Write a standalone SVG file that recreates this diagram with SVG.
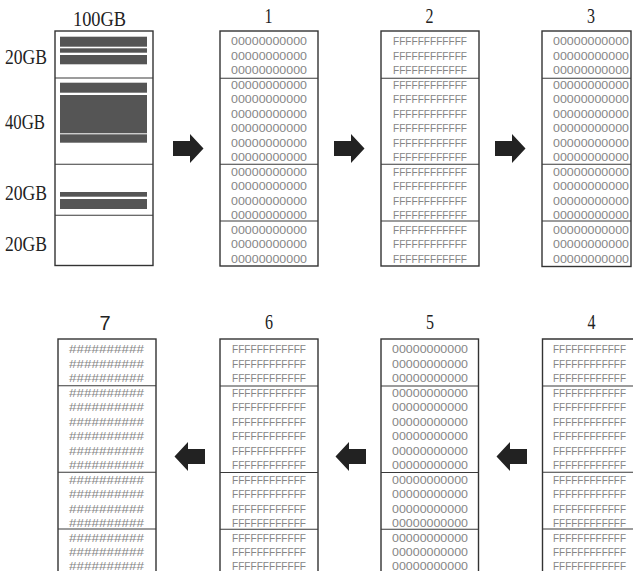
<svg xmlns="http://www.w3.org/2000/svg" width="633" height="571" viewBox="0 0 633 571">
<style>
.box{fill:#fff;stroke:#333;stroke-width:1.4}
.edge{fill:none;stroke:#333;stroke-width:1.4}
.div{stroke:#3a3a3a;stroke-width:1.1}
.bar{fill:#555}
.d{font-family:"Liberation Sans",Arial,sans-serif;font-size:11px;fill:#858585;text-anchor:middle}
.lbl{font-family:"Liberation Serif","Times New Roman",serif;font-size:22px;fill:#222}
.num{font-family:"Liberation Serif","Times New Roman",serif;font-size:22px;fill:#222;text-anchor:middle}
.arr{fill:#222}
</style>
<defs>
<polygon id="ar" class="arr" points="0,-7.5 17,-7.5 17,-14.5 30.5,0 17,14.5 17,7.5 0,7.5"/>
</defs>
<rect width="633" height="571" fill="#fff"/>

<g id="disk">
<text class="lbl" x="73" y="26" textLength="53" lengthAdjust="spacingAndGlyphs">100GB</text>
<text class="lbl" x="5" y="64" textLength="42" lengthAdjust="spacingAndGlyphs">20GB</text>
<text class="lbl" x="5" y="128.5" textLength="40" lengthAdjust="spacingAndGlyphs">40GB</text>
<text class="lbl" x="5" y="199.5" textLength="42" lengthAdjust="spacingAndGlyphs">20GB</text>
<text class="lbl" x="5" y="251" textLength="42" lengthAdjust="spacingAndGlyphs">20GB</text>
<rect class="box" x="55" y="31" width="98" height="234.5"/>
<line class="div" x1="55" y1="78" x2="153" y2="78"/>
<line class="div" x1="55" y1="164.3" x2="153" y2="164.3"/>
<line class="div" x1="55" y1="215.3" x2="153" y2="215.3" stroke="#777"/>
<rect class="bar" x="60" y="36.7" width="87" height="10"/>
<rect class="bar" x="60" y="48.3" width="87" height="4.4"/>
<rect class="bar" x="60" y="55" width="87" height="9.3"/>
<rect class="bar" x="60" y="82.7" width="87" height="10"/>
<rect class="bar" x="60" y="95" width="87" height="38.3"/>
<rect class="bar" x="60" y="134.3" width="87" height="8.4"/>
<rect class="bar" x="60" y="192" width="87" height="4.7"/>
<rect class="bar" x="60" y="199" width="87" height="10"/>
</g>

<g id="m1">
<text class="num" x="268.5" y="23" textLength="8" lengthAdjust="spacingAndGlyphs">1</text>
<rect class="box" x="220" y="31" width="98" height="235"/>
<line class="div" x1="220" y1="78.3" x2="318" y2="78.3"/>
<line class="div" x1="220" y1="164.3" x2="318" y2="164.3"/>
<line class="div" x1="220" y1="221" x2="318" y2="221"/>
<g class="d">
<text x="269" y="45" textLength="76" lengthAdjust="spacingAndGlyphs">00000000000</text>
<text x="269" y="59.5" textLength="76" lengthAdjust="spacingAndGlyphs">00000000000</text>
<text x="269" y="74" textLength="76" lengthAdjust="spacingAndGlyphs">00000000000</text>
<text x="269" y="88.5" textLength="76" lengthAdjust="spacingAndGlyphs">00000000000</text>
<text x="269" y="103" textLength="76" lengthAdjust="spacingAndGlyphs">00000000000</text>
<text x="269" y="117.5" textLength="76" lengthAdjust="spacingAndGlyphs">00000000000</text>
<text x="269" y="132" textLength="76" lengthAdjust="spacingAndGlyphs">00000000000</text>
<text x="269" y="146.5" textLength="76" lengthAdjust="spacingAndGlyphs">00000000000</text>
<text x="269" y="161" textLength="76" lengthAdjust="spacingAndGlyphs">00000000000</text>
<text x="269" y="175.5" textLength="76" lengthAdjust="spacingAndGlyphs">00000000000</text>
<text x="269" y="190" textLength="76" lengthAdjust="spacingAndGlyphs">00000000000</text>
<text x="269" y="204.5" textLength="76" lengthAdjust="spacingAndGlyphs">00000000000</text>
<text x="269" y="219" textLength="76" lengthAdjust="spacingAndGlyphs">00000000000</text>
<text x="269" y="233.5" textLength="76" lengthAdjust="spacingAndGlyphs">00000000000</text>
<text x="269" y="248" textLength="76" lengthAdjust="spacingAndGlyphs">00000000000</text>
<text x="269" y="262.5" textLength="76" lengthAdjust="spacingAndGlyphs">00000000000</text>
</g>
</g>

<g id="m2">
<text class="num" x="429.5" y="23" textLength="8" lengthAdjust="spacingAndGlyphs">2</text>
<rect class="box" x="381" y="31" width="98" height="235"/>
<line class="div" x1="381" y1="78.3" x2="479" y2="78.3"/>
<line class="div" x1="381" y1="164.3" x2="479" y2="164.3"/>
<line class="div" x1="381" y1="221" x2="479" y2="221"/>
<g class="d">
<text x="430" y="45" textLength="74" lengthAdjust="spacingAndGlyphs">FFFFFFFFFFFF</text>
<text x="430" y="59.5" textLength="74" lengthAdjust="spacingAndGlyphs">FFFFFFFFFFFF</text>
<text x="430" y="74" textLength="74" lengthAdjust="spacingAndGlyphs">FFFFFFFFFFFF</text>
<text x="430" y="88.5" textLength="74" lengthAdjust="spacingAndGlyphs">FFFFFFFFFFFF</text>
<text x="430" y="103" textLength="74" lengthAdjust="spacingAndGlyphs">FFFFFFFFFFFF</text>
<text x="430" y="117.5" textLength="74" lengthAdjust="spacingAndGlyphs">FFFFFFFFFFFF</text>
<text x="430" y="132" textLength="74" lengthAdjust="spacingAndGlyphs">FFFFFFFFFFFF</text>
<text x="430" y="146.5" textLength="74" lengthAdjust="spacingAndGlyphs">FFFFFFFFFFFF</text>
<text x="430" y="161" textLength="74" lengthAdjust="spacingAndGlyphs">FFFFFFFFFFFF</text>
<text x="430" y="175.5" textLength="74" lengthAdjust="spacingAndGlyphs">FFFFFFFFFFFF</text>
<text x="430" y="190" textLength="74" lengthAdjust="spacingAndGlyphs">FFFFFFFFFFFF</text>
<text x="430" y="204.5" textLength="74" lengthAdjust="spacingAndGlyphs">FFFFFFFFFFFF</text>
<text x="430" y="219" textLength="74" lengthAdjust="spacingAndGlyphs">FFFFFFFFFFFF</text>
<text x="430" y="233.5" textLength="74" lengthAdjust="spacingAndGlyphs">FFFFFFFFFFFF</text>
<text x="430" y="248" textLength="74" lengthAdjust="spacingAndGlyphs">FFFFFFFFFFFF</text>
<text x="430" y="262.5" textLength="74" lengthAdjust="spacingAndGlyphs">FFFFFFFFFFFF</text>
</g>
</g>

<g id="m3">
<text class="num" x="591" y="23" textLength="8" lengthAdjust="spacingAndGlyphs">3</text>
<rect class="box" x="542" y="31" width="89" height="235.5"/>
<line class="div" x1="542" y1="78.3" x2="631" y2="78.3"/>
<line class="div" x1="542" y1="164.3" x2="631" y2="164.3"/>
<line class="div" x1="542" y1="221" x2="631" y2="221"/>
<g class="d">
<text x="591" y="45" textLength="76" lengthAdjust="spacingAndGlyphs">00000000000</text>
<text x="591" y="59.5" textLength="76" lengthAdjust="spacingAndGlyphs">00000000000</text>
<text x="591" y="74" textLength="76" lengthAdjust="spacingAndGlyphs">00000000000</text>
<text x="591" y="88.5" textLength="76" lengthAdjust="spacingAndGlyphs">00000000000</text>
<text x="591" y="103" textLength="76" lengthAdjust="spacingAndGlyphs">00000000000</text>
<text x="591" y="117.5" textLength="76" lengthAdjust="spacingAndGlyphs">00000000000</text>
<text x="591" y="132" textLength="76" lengthAdjust="spacingAndGlyphs">00000000000</text>
<text x="591" y="146.5" textLength="76" lengthAdjust="spacingAndGlyphs">00000000000</text>
<text x="591" y="161" textLength="76" lengthAdjust="spacingAndGlyphs">00000000000</text>
<text x="591" y="175.5" textLength="76" lengthAdjust="spacingAndGlyphs">00000000000</text>
<text x="591" y="190" textLength="76" lengthAdjust="spacingAndGlyphs">00000000000</text>
<text x="591" y="204.5" textLength="76" lengthAdjust="spacingAndGlyphs">00000000000</text>
<text x="591" y="219" textLength="76" lengthAdjust="spacingAndGlyphs">00000000000</text>
<text x="591" y="233.5" textLength="76" lengthAdjust="spacingAndGlyphs">00000000000</text>
<text x="591" y="248" textLength="76" lengthAdjust="spacingAndGlyphs">00000000000</text>
<text x="591" y="262.5" textLength="76" lengthAdjust="spacingAndGlyphs">00000000000</text>
</g>
</g>

<g id="m4">
<text class="num" x="591.5" y="328.5" textLength="8" lengthAdjust="spacingAndGlyphs">4</text>
<path class="edge" d="M633,339 H542.5 V571"/>
<line class="div" x1="542.5" y1="386" x2="633" y2="386"/>
<line class="div" x1="542.5" y1="472.3" x2="633" y2="472.3"/>
<line class="div" x1="542.5" y1="529" x2="633" y2="529"/>
<g class="d">
<text x="589.5" y="353" textLength="73" lengthAdjust="spacingAndGlyphs">FFFFFFFFFFFF</text>
<text x="589.5" y="367.5" textLength="73" lengthAdjust="spacingAndGlyphs">FFFFFFFFFFFF</text>
<text x="589.5" y="382" textLength="73" lengthAdjust="spacingAndGlyphs">FFFFFFFFFFFF</text>
<text x="589.5" y="396.5" textLength="73" lengthAdjust="spacingAndGlyphs">FFFFFFFFFFFF</text>
<text x="589.5" y="411" textLength="73" lengthAdjust="spacingAndGlyphs">FFFFFFFFFFFF</text>
<text x="589.5" y="425.5" textLength="73" lengthAdjust="spacingAndGlyphs">FFFFFFFFFFFF</text>
<text x="589.5" y="440" textLength="73" lengthAdjust="spacingAndGlyphs">FFFFFFFFFFFF</text>
<text x="589.5" y="454.5" textLength="73" lengthAdjust="spacingAndGlyphs">FFFFFFFFFFFF</text>
<text x="589.5" y="469" textLength="73" lengthAdjust="spacingAndGlyphs">FFFFFFFFFFFF</text>
<text x="589.5" y="483.5" textLength="73" lengthAdjust="spacingAndGlyphs">FFFFFFFFFFFF</text>
<text x="589.5" y="498" textLength="73" lengthAdjust="spacingAndGlyphs">FFFFFFFFFFFF</text>
<text x="589.5" y="512.5" textLength="73" lengthAdjust="spacingAndGlyphs">FFFFFFFFFFFF</text>
<text x="589.5" y="527" textLength="73" lengthAdjust="spacingAndGlyphs">FFFFFFFFFFFF</text>
<text x="589.5" y="541.5" textLength="73" lengthAdjust="spacingAndGlyphs">FFFFFFFFFFFF</text>
<text x="589.5" y="556" textLength="73" lengthAdjust="spacingAndGlyphs">FFFFFFFFFFFF</text>
<text x="589.5" y="569.5" textLength="73" lengthAdjust="spacingAndGlyphs">FFFFFFFFFFFF</text>
</g>
</g>

<g id="m5">
<text class="num" x="430" y="329" textLength="8" lengthAdjust="spacingAndGlyphs">5</text>
<rect class="box" x="381" y="339" width="97.5" height="240"/>
<line class="div" x1="381" y1="386" x2="478.5" y2="386"/>
<line class="div" x1="381" y1="472.5" x2="478.5" y2="472.5"/>
<line class="div" x1="381" y1="529.3" x2="478.5" y2="529.3"/>
<g class="d">
<text x="430" y="353" textLength="76" lengthAdjust="spacingAndGlyphs">00000000000</text>
<text x="430" y="367.5" textLength="76" lengthAdjust="spacingAndGlyphs">00000000000</text>
<text x="430" y="382" textLength="76" lengthAdjust="spacingAndGlyphs">00000000000</text>
<text x="430" y="396.5" textLength="76" lengthAdjust="spacingAndGlyphs">00000000000</text>
<text x="430" y="411" textLength="76" lengthAdjust="spacingAndGlyphs">00000000000</text>
<text x="430" y="425.5" textLength="76" lengthAdjust="spacingAndGlyphs">00000000000</text>
<text x="430" y="440" textLength="76" lengthAdjust="spacingAndGlyphs">00000000000</text>
<text x="430" y="454.5" textLength="76" lengthAdjust="spacingAndGlyphs">00000000000</text>
<text x="430" y="469" textLength="76" lengthAdjust="spacingAndGlyphs">00000000000</text>
<text x="430" y="483.5" textLength="76" lengthAdjust="spacingAndGlyphs">00000000000</text>
<text x="430" y="498" textLength="76" lengthAdjust="spacingAndGlyphs">00000000000</text>
<text x="430" y="512.5" textLength="76" lengthAdjust="spacingAndGlyphs">00000000000</text>
<text x="430" y="527" textLength="76" lengthAdjust="spacingAndGlyphs">00000000000</text>
<text x="430" y="541.5" textLength="76" lengthAdjust="spacingAndGlyphs">00000000000</text>
<text x="430" y="556" textLength="76" lengthAdjust="spacingAndGlyphs">00000000000</text>
<text x="430" y="569.5" textLength="76" lengthAdjust="spacingAndGlyphs">00000000000</text>
</g>
</g>

<g id="m6">
<text class="num" x="269" y="329" textLength="8" lengthAdjust="spacingAndGlyphs">6</text>
<rect class="box" x="220" y="339" width="98" height="240"/>
<line class="div" x1="220" y1="386" x2="318" y2="386"/>
<line class="div" x1="220" y1="472.5" x2="318" y2="472.5"/>
<line class="div" x1="220" y1="529.3" x2="318" y2="529.3"/>
<g class="d">
<text x="269" y="353" textLength="74" lengthAdjust="spacingAndGlyphs">FFFFFFFFFFFF</text>
<text x="269" y="367.5" textLength="74" lengthAdjust="spacingAndGlyphs">FFFFFFFFFFFF</text>
<text x="269" y="382" textLength="74" lengthAdjust="spacingAndGlyphs">FFFFFFFFFFFF</text>
<text x="269" y="396.5" textLength="74" lengthAdjust="spacingAndGlyphs">FFFFFFFFFFFF</text>
<text x="269" y="411" textLength="74" lengthAdjust="spacingAndGlyphs">FFFFFFFFFFFF</text>
<text x="269" y="425.5" textLength="74" lengthAdjust="spacingAndGlyphs">FFFFFFFFFFFF</text>
<text x="269" y="440" textLength="74" lengthAdjust="spacingAndGlyphs">FFFFFFFFFFFF</text>
<text x="269" y="454.5" textLength="74" lengthAdjust="spacingAndGlyphs">FFFFFFFFFFFF</text>
<text x="269" y="469" textLength="74" lengthAdjust="spacingAndGlyphs">FFFFFFFFFFFF</text>
<text x="269" y="483.5" textLength="74" lengthAdjust="spacingAndGlyphs">FFFFFFFFFFFF</text>
<text x="269" y="498" textLength="74" lengthAdjust="spacingAndGlyphs">FFFFFFFFFFFF</text>
<text x="269" y="512.5" textLength="74" lengthAdjust="spacingAndGlyphs">FFFFFFFFFFFF</text>
<text x="269" y="527" textLength="74" lengthAdjust="spacingAndGlyphs">FFFFFFFFFFFF</text>
<text x="269" y="541.5" textLength="74" lengthAdjust="spacingAndGlyphs">FFFFFFFFFFFF</text>
<text x="269" y="556" textLength="74" lengthAdjust="spacingAndGlyphs">FFFFFFFFFFFF</text>
<text x="269" y="569.5" textLength="74" lengthAdjust="spacingAndGlyphs">FFFFFFFFFFFF</text>
</g>
</g>

<g id="m7">
<text x="105" y="330" font-family="'Liberation Sans',Arial,sans-serif" font-size="20" fill="#222" text-anchor="middle">7</text>
<rect class="box" x="58" y="339" width="98" height="240"/>
<line class="div" x1="58" y1="385.7" x2="156" y2="385.7"/>
<line class="div" x1="58" y1="472.3" x2="156" y2="472.3"/>
<line class="div" x1="58" y1="529" x2="156" y2="529"/>
<g class="d">
<text x="106.5" y="353" textLength="75" lengthAdjust="spacingAndGlyphs">##########</text>
<text x="106.5" y="367.5" textLength="75" lengthAdjust="spacingAndGlyphs">##########</text>
<text x="106.5" y="382" textLength="75" lengthAdjust="spacingAndGlyphs">##########</text>
<text x="106.5" y="396.5" textLength="75" lengthAdjust="spacingAndGlyphs">##########</text>
<text x="106.5" y="411" textLength="75" lengthAdjust="spacingAndGlyphs">##########</text>
<text x="106.5" y="425.5" textLength="75" lengthAdjust="spacingAndGlyphs">##########</text>
<text x="106.5" y="440" textLength="75" lengthAdjust="spacingAndGlyphs">##########</text>
<text x="106.5" y="454.5" textLength="75" lengthAdjust="spacingAndGlyphs">##########</text>
<text x="106.5" y="469" textLength="75" lengthAdjust="spacingAndGlyphs">##########</text>
<text x="106.5" y="483.5" textLength="75" lengthAdjust="spacingAndGlyphs">##########</text>
<text x="106.5" y="498" textLength="75" lengthAdjust="spacingAndGlyphs">##########</text>
<text x="106.5" y="512.5" textLength="75" lengthAdjust="spacingAndGlyphs">##########</text>
<text x="106.5" y="527" textLength="75" lengthAdjust="spacingAndGlyphs">##########</text>
<text x="106.5" y="541.5" textLength="75" lengthAdjust="spacingAndGlyphs">##########</text>
<text x="106.5" y="556" textLength="75" lengthAdjust="spacingAndGlyphs">##########</text>
<text x="106.5" y="569.5" textLength="75" lengthAdjust="spacingAndGlyphs">##########</text>
</g>
</g>

<g id="connectors">
<use href="#ar" transform="translate(173,148.5)"/>
<use href="#ar" transform="translate(334,148.5)"/>
<use href="#ar" transform="translate(495,148.5)"/>
<use href="#ar" transform="translate(527,456.5) scale(-1,1)"/>
<use href="#ar" transform="translate(366,456.5) scale(-1,1)"/>
<use href="#ar" transform="translate(205,456.5) scale(-1,1)"/>
</g>
</svg>
